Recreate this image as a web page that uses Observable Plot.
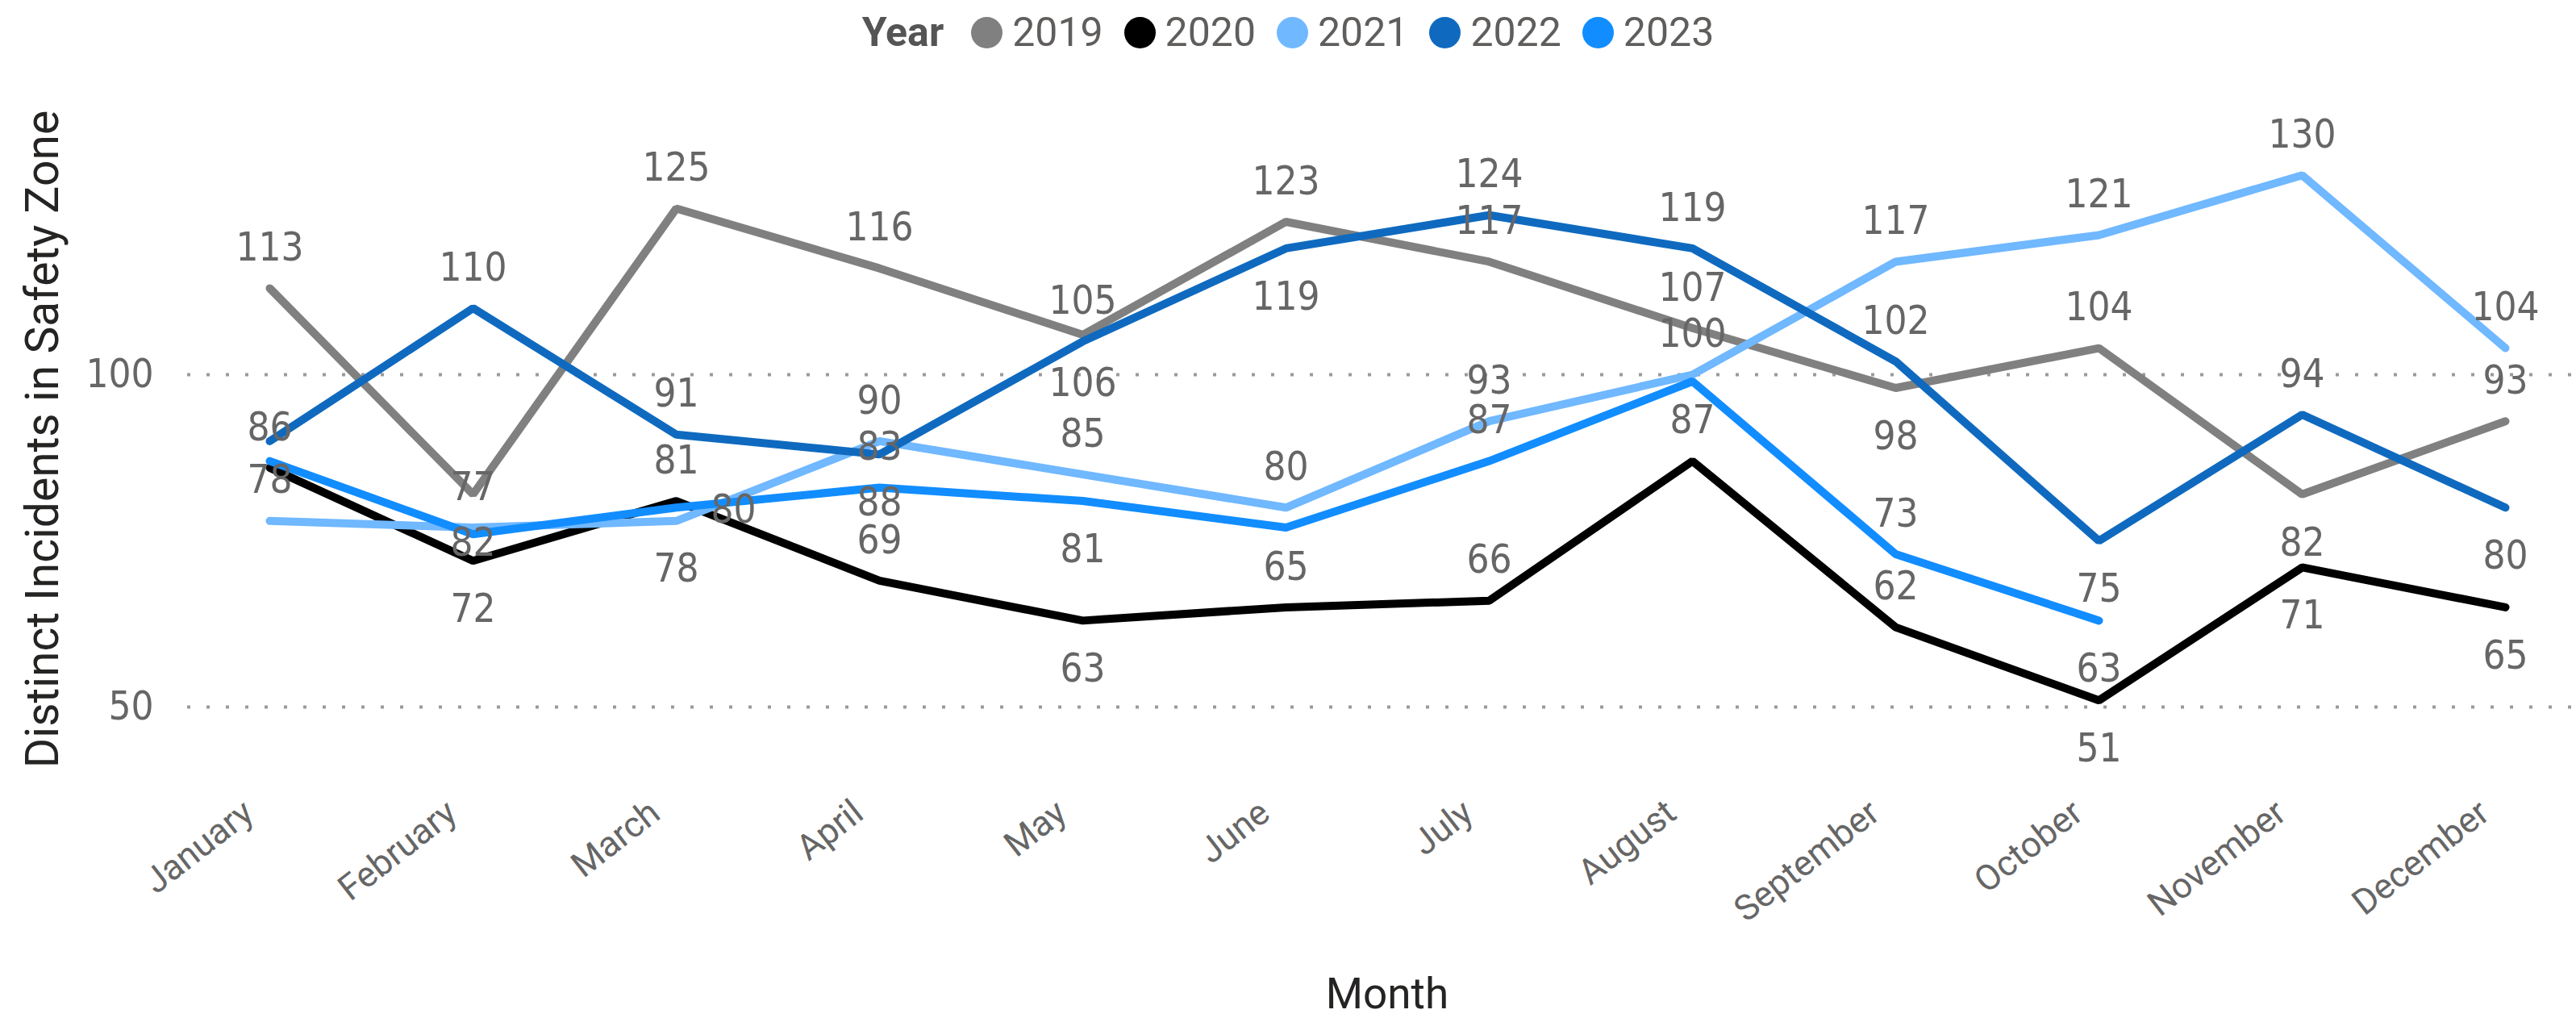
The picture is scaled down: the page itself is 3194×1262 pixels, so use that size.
<!DOCTYPE html>
<html>
<head>
<meta charset="utf-8">
<script src="https://cdn.jsdelivr.net/npm/d3@7"></script>
<script src="https://cdn.jsdelivr.net/npm/@observablehq/plot@0.6"></script>
<style>
  html, body { margin: 0; padding: 0; background: #ffffff; }
  #legend { height: 80px; display: flex; align-items: center; justify-content: center;
            font-family: Roboto, "Open Sans", sans-serif; font-size: 50px; color: #605E5C; }
  #legend .title { font-weight: bold; color: #555555; margin-right: 34px; }
  #legend .item { display: flex; align-items: center; margin-right: 26px; }
  #legend .item:last-child { margin-right: 0; }
  #legend .sw { width: 39px; height: 39px; border-radius: 50%; margin-right: 12px; }
  #chart svg { display: block; }
</style>
</head>
<body>
<div id="legend"></div>
<div id="chart"></div>
<script>
// ---- data ----
const months = ["January","February","March","April","May","June","July","August","September","October","November","December"];
const years = ["2019","2020","2021","2022","2023"];
const colors = ["#808080","#000000","#70B8FF","#0F6ABF","#118DFF"];

const v2019 = [113, 82, 125, 116, 106, 123, 117, 107, 98, 104, 82, 93];
const v2020 = [86, 72, 81, 69, 63, 65, 66, 87, 62, 51, 71, 65];
const v2021 = [78, 77, 78, 90, 85, 80, 93, 100, 117, 121, 130, 104];
const v2022 = [90, 110, 91, 88, 105, 119, 124, 119, 102, 75, 94, 80];
const v2023 = [87, 76, 80, 83, 81, 77, 87, 99, 73, 63, null, null];

const yTicks = [50, 100];

// data-label placement: a = above, b = below, r = right, "" = hidden
const side2019 = ["a","b","a","a","b","a","a","a","b","a","b","a"];
const side2020 = ["a","b","a","a","b","a","a","a","a","b","b","b"];
const side2021 = ["a","a","b","a","a","a","a","a","a","a","a","a"];
const side2022 = ["","a","a","b","a","b","a","a","a","b","a","b"];
const side2023 = ["","","r","a","b","","a","","a","b","",""];

const seriesValues = [v2019, v2020, v2021, v2022, v2023];
const seriesSides = [side2019, side2020, side2021, side2022, side2023];

const rows = [];
years.forEach((yr, i) => {
  months.forEach((m, j) => {
    rows.push({month: m, year: yr, value: seriesValues[i][j], side: seriesSides[i][j]});
  });
});
const pts = rows.filter(d => d.value != null);

// ---- legend ----
const legend = document.getElementById("legend");
legend.innerHTML = `<span class="title">Year</span>` +
  years.map((y, i) => `<span class="item"><span class="sw" style="background:${colors[i]}"></span>${y}</span>`).join("");

// ---- chart ----
const labelFont = '"Liberation Sans Narrow", "DejaVu Sans Condensed", Roboto, sans-serif';
const titleFont = 'Roboto, "Open Sans", sans-serif';
const labelColor = "#666666";

const chart = Plot.plot({
  width: 3194,
  height: 1182,
  marginLeft: 332,
  marginRight: 87,
  marginTop: 95.6,
  marginBottom: 303.6,
  style: {background: "#ffffff", fontFamily: titleFont},
  x: {type: "point", domain: months, padding: 0, axis: null},
  y: {domain: [40, 135], axis: null},
  color: {domain: years, range: colors},
  marks: [
    Plot.ruleY(yTicks, {stroke: "#9a9a9a", strokeWidth: 4, strokeDasharray: "4,20", insetLeft: -100, insetRight: -87}),
    Plot.axisY({ticks: yTicks, tickSize: 0, tickPadding: 142, fontSize: 49, fontFamily: labelFont, color: labelColor, label: null}),
    Plot.text(months, {x: d => d, text: d => d, frameAnchor: "bottom", rotate: -38, textAnchor: "end", lineAnchor: "middle",
      dx: -26, dy: 43, fontSize: 44, fontFamily: titleFont, fill: labelColor}),
    Plot.line(pts, {x: "month", y: "value", z: "year", stroke: "year", strokeWidth: 10, strokeLinejoin: "miter", strokeLinecap: "round"}),
    Plot.text(pts.filter(d => d.side === "a"), {x: "month", y: "value", text: d => String(d.value), dy: -50, lineAnchor: "middle",
      fontSize: 49, fontFamily: labelFont, fill: labelColor}),
    Plot.text(pts.filter(d => d.side === "b"), {x: "month", y: "value", text: d => String(d.value), dy: 60, lineAnchor: "middle",
      fontSize: 49, fontFamily: labelFont, fill: labelColor}),
    Plot.text(pts.filter(d => d.side === "r"), {x: "month", y: "value", text: d => String(d.value), dx: 71, dy: 3, lineAnchor: "middle",
      fontSize: 49, fontFamily: labelFont, fill: labelColor}),
    Plot.text(["Month"], {text: d => d, frameAnchor: "bottom", dy: 274, lineAnchor: "middle",
      fontSize: 53, fontFamily: titleFont, fill: "#252423"}),
    Plot.text(["Distinct Incidents in Safety Zone"], {text: d => d, frameAnchor: "left", rotate: -90, dx: -279, dy: -23,
      textAnchor: "middle", lineAnchor: "middle", fontSize: 57, fontFamily: titleFont, fill: "#252423"})
  ]
});
document.getElementById("chart").appendChild(chart);
</script>
</body>
</html>
